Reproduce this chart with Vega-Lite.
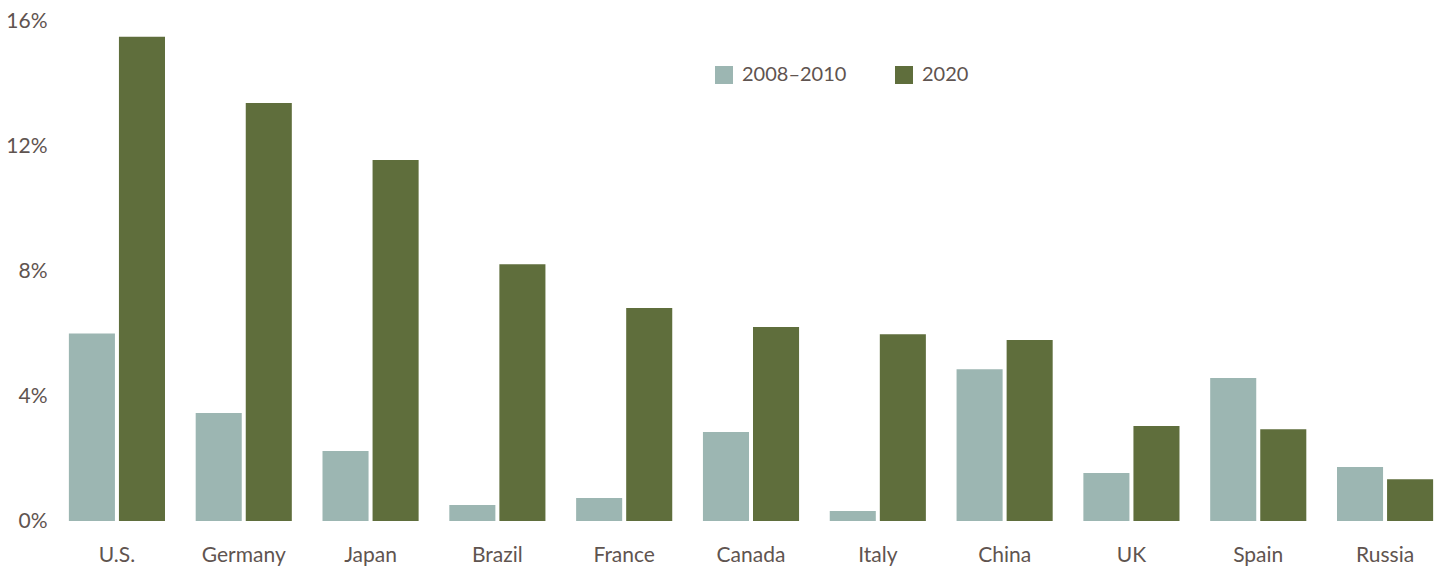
{
  "$schema": "https://vega.github.io/schema/vega-lite/v6.json",
  "autosize": "none",
  "width": 1382,
  "height": 500,
  "padding": {"left": 60, "top": 21, "right": 1, "bottom": 48},
  "background": "white",
  "config": {
    "view": {"stroke": null},
    "font": "Lato",
    "axis": {"labelFont": "Lato", "labelColor": "#5f5450", "labelFontSize": 21, "labelFontWeight": 400},
    "legend": {"labelFont": "Lato", "labelColor": "#5f5450", "labelFontSize": 20, "labelFontWeight": 400}
  },
  "data": {
    "values": [
      {"country": "U.S.", "period": "2008–2010", "value": 6.0},
      {"country": "U.S.", "period": "2020", "value": 15.5},
      {"country": "Germany", "period": "2008–2010", "value": 3.46},
      {"country": "Germany", "period": "2020", "value": 13.38},
      {"country": "Japan", "period": "2008–2010", "value": 2.24},
      {"country": "Japan", "period": "2020", "value": 11.55},
      {"country": "Brazil", "period": "2008–2010", "value": 0.51},
      {"country": "Brazil", "period": "2020", "value": 8.22},
      {"country": "France", "period": "2008–2010", "value": 0.74},
      {"country": "France", "period": "2020", "value": 6.82},
      {"country": "Canada", "period": "2008–2010", "value": 2.85},
      {"country": "Canada", "period": "2020", "value": 6.21},
      {"country": "Italy", "period": "2008–2010", "value": 0.32},
      {"country": "Italy", "period": "2020", "value": 5.98},
      {"country": "China", "period": "2008–2010", "value": 4.86},
      {"country": "China", "period": "2020", "value": 5.79},
      {"country": "UK", "period": "2008–2010", "value": 1.54},
      {"country": "UK", "period": "2020", "value": 3.04},
      {"country": "Spain", "period": "2008–2010", "value": 4.58},
      {"country": "Spain", "period": "2020", "value": 2.94},
      {"country": "Russia", "period": "2008–2010", "value": 1.73},
      {"country": "Russia", "period": "2020", "value": 1.34}
    ]
  },
  "mark": {"type": "bar"},
  "encoding": {
    "x": {
      "field": "country", "type": "nominal", "sort": null,
      "scale": {"paddingInner": 0.242, "paddingOuter": 0.07},
      "axis": {"title": null, "labelAngle": 0, "ticks": false, "domain": false, "labelPadding": 34, "labelBaseline": "middle"}
    },
    "xOffset": {
      "field": "period", "type": "nominal", "sort": null,
      "scale": {"paddingInner": 0.08, "paddingOuter": 0}
    },
    "y": {
      "field": "value", "type": "quantitative",
      "scale": {"domain": [0, 16], "nice": false},
      "axis": {"title": null, "values": [0, 4, 8, 12, 16], "labelExpr": "datum.value + '%'", "ticks": false, "domain": false, "grid": false, "labelPadding": 13, "labelBaseline": "middle"}
    },
    "color": {
      "field": "period", "type": "nominal", "sort": null,
      "scale": {"domain": ["2008–2010", "2020"], "range": ["#9cb6b2", "#5f6e3c"]},
      "legend": {
        "title": null, "orient": "none", "direction": "horizontal",
        "legendX": 654, "legendY": 44,
        "symbolType": "square", "symbolSize": 324, "symbolStrokeWidth": 0,
        "labelOffset": 8, "columnPadding": 47
      }
    }
  }
}
